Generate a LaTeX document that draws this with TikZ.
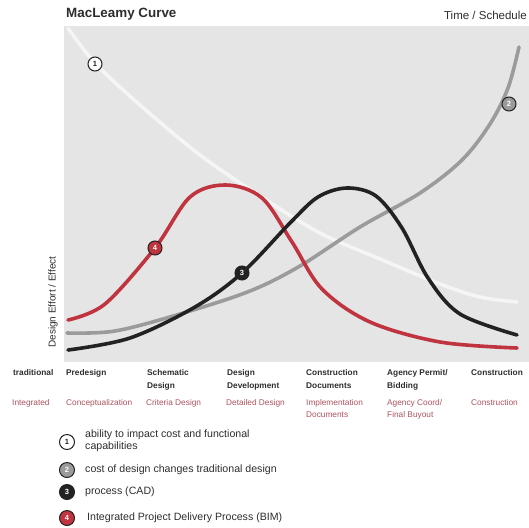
\documentclass[tikz,border=0pt]{standalone}
\usepackage{fontspec}
\setmainfont{Liberation Sans}
\definecolor{plotbg}{RGB}{229,229,229}
\definecolor{bimred}{RGB}{192,52,64}
\definecolor{costgray}{RGB}{155,155,155}
\definecolor{cadblack}{RGB}{34,34,34}
\definecolor{intred}{RGB}{172,82,94}
\definecolor{textgray}{RGB}{45,45,45}
\tikzset{
	marker/.style={circle, draw=cadblack, line width=1pt, inner sep=0pt, minimum size=14pt, font=\bfseries\fontsize{7.5}{7.5}\selectfont},
	phase/.style={anchor=north west, align=left, inner sep=0pt, text=textgray, font=\bfseries\fontsize{8.3}{13}\selectfont},
	intphase/.style={anchor=north west, align=left, inner sep=0pt, text=intred, font=\fontsize{8.3}{12}\selectfont},
	legend/.style={anchor=west, align=left, inner sep=0pt, text=textgray, font=\fontsize{10.6}{12}\selectfont},
	curve/.style={line width=3.6pt, line cap=round}
}
\begin{document}
\begin{tikzpicture}[x=1pt, y=-1pt]
	\useasboundingbox (0,0) rectangle (529,527);
	\fill[plotbg] (64,26) rectangle (529,362);

	\node[anchor=south west, inner sep=0pt, text=textgray, font=\bfseries\fontsize{13.4}{14}\selectfont] (title) at (66,20) {MacLeamy Curve};
	\node[anchor=south east, inner sep=0pt, text=textgray, font=\fontsize{11.5}{12}\selectfont] (time) at (527,20) {Time / Schedule};
	\node[rotate=90, inner sep=0pt, text=textgray, font=\fontsize{10}{12}\selectfont] (effort) at (53,302) {Design Effort / Effect};

\draw[curve, white!96!black] plot[smooth, tension=0.55] coordinates {(68,28) (95,63) (140,105) (200,155) (260,196) (320,233) (380,259) (440,284) (480,297) (517,302)};
\draw[curve, costgray] plot[smooth, tension=0.55] coordinates {(67,333) (115,331) (180,314) (250,291) (300,266) (360,227) (420,193) (462,160) (490,124) (508,88) (519,47)};
\draw[curve, bimred] plot[smooth, tension=0.55] coordinates {(68,320) (105,304) (155,248) (190,197) (226,185) (262,198) (292,242) (322,289) (370,322) (440,342) (517,348)};
\draw[curve, cadblack] plot[smooth, tension=0.55] coordinates {(68,350) (130,338) (195,307) (242,273) (290,223) (318,197) (347,188) (376,196) (402,228) (428,278) (460,314) (517,335)};

	\node[marker, fill=white, text=cadblack] (m1) at (95,64) {1};
	\node[marker, fill=costgray, text=white] (m2) at (509,104) {2};
	\node[marker, fill=cadblack, text=white] (m3) at (242,273) {3};
	\node[marker, fill=bimred, text=white] (m4) at (155,248) {4};

	\node[phase] (trad) at (13,369) {traditional};
	\node[phase] (pre) at (66,369) {Predesign};
	\node[phase] (sd) at (147,369) {Schematic\\Design};
	\node[phase] (dd) at (227,369) {Design\\Development};
	\node[phase] (cd) at (306,369) {Construction\\Documents};
	\node[phase] (ap) at (387,369) {Agency Permit/\\Bidding};
	\node[phase] (con) at (471,369) {Construction};

	\node[intphase] (integ) at (12,399) {Integrated};
	\node[intphase] (concept) at (66,399) {Conceptualization};
	\node[intphase] (crit) at (146,399) {Criteria Design};
	\node[intphase] (det) at (226,399) {Detailed Design};
	\node[intphase] (impl) at (306,399) {Implementation\\Documents};
	\node[intphase] (agc) at (387,399) {Agency Coord/\\Final Buyout};
	\node[intphase] (icon) at (471,399) {Construction};

	\node[marker, minimum size=15pt, fill=white, text=cadblack] (l1) at (67,442) {1};
	\node[marker, minimum size=15pt, fill=costgray, text=white] (l2) at (67,470) {2};
	\node[marker, minimum size=15pt, fill=cadblack, text=white] (l3) at (67,492) {3};
	\node[marker, minimum size=15pt, fill=bimred, text=white] (l4) at (67,518) {4};
	\node[legend] (t1) at (85,441) {ability to impact cost and functional\\capabilities};
	\node[legend] (t2) at (85,470) {cost of design changes traditional design};
	\node[legend] (t3) at (85,492) {process (CAD)};
	\node[legend] (t4) at (87,518) {Integrated Project Delivery Process (BIM)};
\end{tikzpicture}
\end{document}
